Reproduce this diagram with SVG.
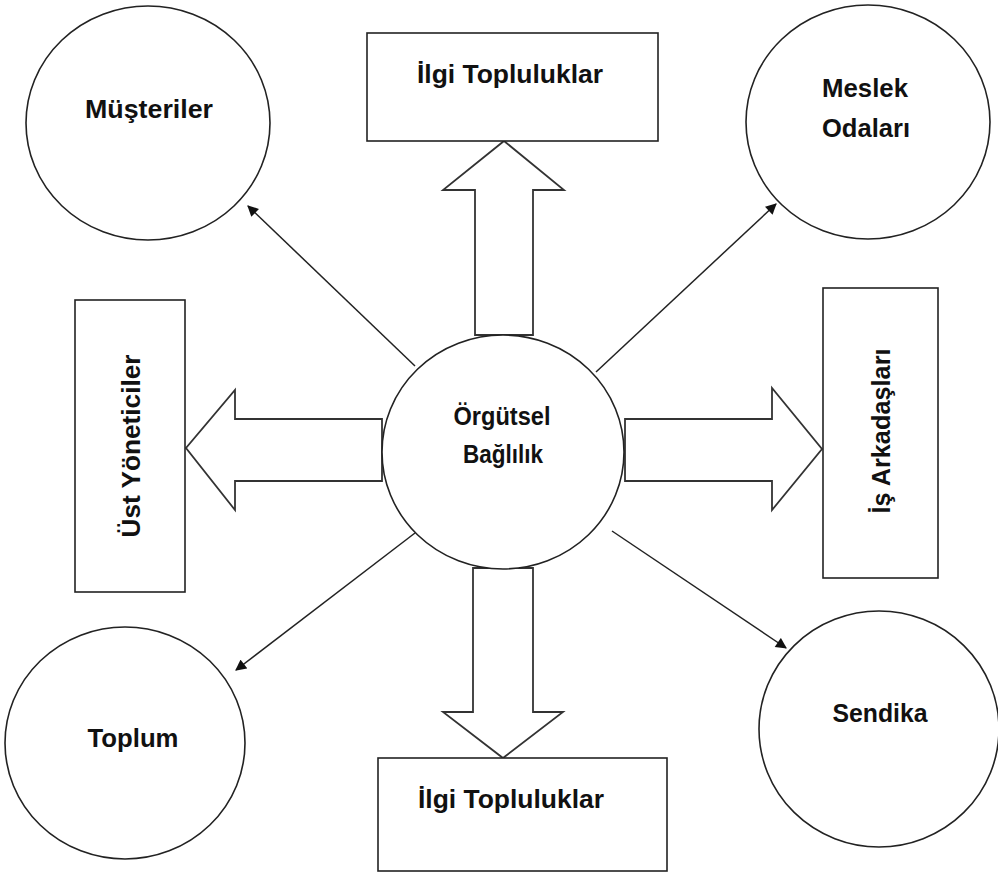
<svg xmlns="http://www.w3.org/2000/svg" width="998" height="872" viewBox="0 0 998 872">
  <style>
    .shape { fill: #fff; stroke: #222; stroke-width: 1.6; }
    .block { fill: #fff; stroke: #333; stroke-width: 1.8; }
    .link { fill: none; stroke: #222; stroke-width: 1.5; }
    .label { font-family: "Liberation Sans", Arial, sans-serif; font-weight: bold; font-size: 25px; fill: #111; text-anchor: middle; }
  </style>
  <defs>
    <marker id="tip" viewBox="0 0 10 10" refX="9" refY="5" markerWidth="12" markerHeight="11" markerUnits="userSpaceOnUse" orient="auto">
      <path d="M0,0 L10,5 L0,10 Z" fill="#111"/>
    </marker>
  </defs>
  <rect width="998" height="872" fill="#fff"/>

  <!-- thin connectors to the round nodes -->
  <g id="connectors">
    <line class="link" x1="415" y1="366" x2="248" y2="206" marker-end="url(#tip)"/>
    <line class="link" x1="596" y1="372" x2="776" y2="204" marker-end="url(#tip)"/>
    <line class="link" x1="415" y1="533" x2="236" y2="670" marker-end="url(#tip)"/>
    <line class="link" x1="612" y1="531" x2="786" y2="648" marker-end="url(#tip)"/>
  </g>

  <!-- block arrows -->
  <g id="block-arrows">
    <polygon class="block" points="475,335 475,190 443,190 504,141 564,190 533,190 533,335"/>
    <polygon class="block" points="473,568 473,712 443,712 503,758 563,712 533,712 533,568"/>
    <polygon class="block" points="382,419 235,419 235,390 186,448 235,510 235,481 382,481"/>
    <polygon class="block" points="625,419 772,419 772,388 822,449 772,510 772,481 625,481"/>
  </g>

  <g id="center">
    <ellipse class="shape" cx="503" cy="452" rx="121" ry="117"/>
    <text class="label" x="502" y="425" textLength="97" lengthAdjust="spacingAndGlyphs">Örgütsel</text>
    <text class="label" x="503" y="463" textLength="80" lengthAdjust="spacingAndGlyphs">Bağlılık</text>
  </g>

  <g id="musteriler">
    <ellipse class="shape" cx="148" cy="123" rx="122" ry="117"/>
    <text class="label" x="149" y="118" textLength="128" lengthAdjust="spacingAndGlyphs">Müşteriler</text>
  </g>

  <g id="meslek-odalari">
    <ellipse class="shape" cx="868" cy="122" rx="122" ry="117"/>
    <text class="label" x="865" y="97" textLength="86" lengthAdjust="spacingAndGlyphs">Meslek</text>
    <text class="label" x="866" y="137" textLength="88" lengthAdjust="spacingAndGlyphs">Odaları</text>
  </g>

  <g id="toplum">
    <ellipse class="shape" cx="125" cy="743" rx="120" ry="116"/>
    <text class="label" x="133" y="747" textLength="91" lengthAdjust="spacingAndGlyphs">Toplum</text>
  </g>

  <g id="sendika">
    <ellipse class="shape" cx="879" cy="729" rx="120" ry="118"/>
    <text class="label" x="880" y="722" textLength="95" lengthAdjust="spacingAndGlyphs">Sendika</text>
  </g>

  <g id="ilgi-ust">
    <rect class="shape" x="367" y="33" width="291" height="108"/>
    <text class="label" x="510" y="83" textLength="186" lengthAdjust="spacingAndGlyphs">İlgi Topluluklar</text>
  </g>

  <g id="ilgi-alt">
    <rect class="shape" x="378" y="758" width="289" height="113"/>
    <text class="label" x="511" y="808" textLength="186" lengthAdjust="spacingAndGlyphs">İlgi Topluluklar</text>
  </g>

  <g id="ust-yoneticiler">
    <rect class="shape" x="75" y="300" width="110" height="292"/>
    <text class="label" transform="translate(140,446) rotate(-90)" textLength="183" lengthAdjust="spacingAndGlyphs">Üst Yöneticiler</text>
  </g>

  <g id="is-arkadaslari">
    <rect class="shape" x="823" y="288" width="115" height="290"/>
    <text class="label" transform="translate(890,431) rotate(-90)" textLength="165" lengthAdjust="spacingAndGlyphs">İş Arkadaşları</text>
  </g>
</svg>
